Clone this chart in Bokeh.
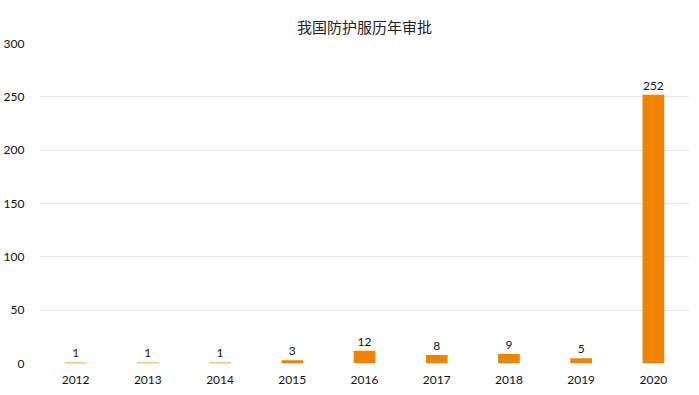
from bokeh.plotting import figure
from bokeh.models import ColumnDataSource, Range1d, SingleIntervalTicker, LabelSet
from bokeh.core.properties import value
from bokeh.embed import file_html
from bokeh.resources import INLINE

years = ["2012", "2013", "2014", "2015", "2016", "2017", "2018", "2019", "2020"]
counts = [1, 1, 1, 3, 12, 8, 9, 5, 252]
labels = [str(c) for c in counts]
title_text = "我国防护服历年审批"

src = ColumnDataSource(dict(years=years, counts=counts, labels=labels))

p = figure(x_range=years, y_range=Range1d(0, 300),
           frame_width=650, frame_height=320,
           output_backend="svg", toolbar_location=None,
           min_border_left=30, min_border_right=0, min_border_top=43, min_border_bottom=0)

p.title.text = title_text
p.title.align = "center"
p.title.text_font = "Noto Sans CJK SC"
p.title.text_font_size = "15px"
p.title.text_font_style = "normal"
p.title.text_color = "#222222"
p.title.standoff = 14
p.title.offset = -14

p.vbar(x="years", top="counts", width=0.3, source=src, color="#F08300", line_color=None)

p.add_layout(LabelSet(x="years", y="counts", text="labels", source=src,
                      text_align="center", text_baseline="bottom", y_offset=5,
                      text_font_size="12px", text_font=value("Lato"), text_color="#111111"))

p.outline_line_color = None
p.xgrid.grid_line_color = None
p.ygrid.grid_line_color = "#e6e6e6"
p.ygrid.grid_line_width = 1
p.yaxis.ticker = SingleIntervalTicker(interval=50)

for ax in (p.xaxis, p.yaxis):
    ax.axis_line_color = None
    ax.major_tick_line_color = None
    ax.minor_tick_line_color = None
    ax.major_tick_in = 0
    ax.major_tick_out = 0
    ax.major_label_text_font = "Lato"
    ax.major_label_text_font_size = "12px"
    ax.major_label_text_color = "#111111"
p.xaxis.major_label_standoff = 12
p.yaxis.major_label_standoff = 11
p.x_range.range_padding = 0

open("out.html", "w").write(file_html(p, INLINE))
